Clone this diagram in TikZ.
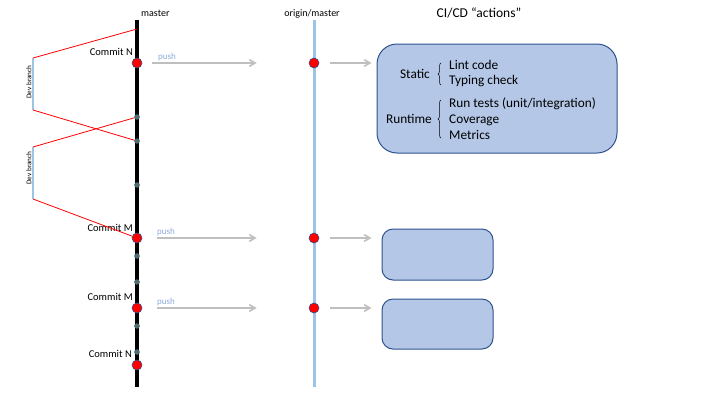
\documentclass[tikz,border=0pt]{standalone}
\usepackage{fontspec}
\setmainfont{Carlito}
\usepackage{tikz}
\usetikzlibrary{
        arrows,
        decorations.pathreplacing,
        positioning,
        shapes
    }
\definecolor{boxfill}{RGB}{180,199,231}
\definecolor{boxline}{RGB}{47,82,143}
\definecolor{pushgray}{RGB}{191,191,191}
\definecolor{originblue}{RGB}{157,195,230}
\definecolor{pushblue}{RGB}{142,169,219}
\definecolor{wipgreen}{RGB}{84,112,90}
\tikzset{>=angle 60,node distance=2cm}
\tikzset{commit/.style={circle,draw=boxline,fill=red,line width=0.6pt,minimum size=10pt,inner sep=0pt}}
\tikzset{wip/.style={circle,draw=boxline,fill=wipgreen,line width=0.4pt,minimum size=5pt,inner sep=0pt}}
\tikzset{clabel/.style={inner sep=0pt,font=\fontsize{10.5}{12}\selectfont}}
\tikzset{plabel/.style={inner sep=0pt,text=pushblue,font=\fontsize{9}{10}\selectfont}}
\tikzset{devlabel/.style={inner sep=0pt,rotate=90,font=\fontsize{7.2}{8}\selectfont}}
\tikzset{actionbox/.style={draw=boxline,fill=boxfill,line width=1pt}}
\tikzset{boxtext/.style={inner sep=0pt,font=\fontsize{13.3}{16}\selectfont}}
\tikzset{pusharrow/.style={->,draw=pushgray,line width=1.6pt}}
\tikzset{merge/.style={draw=red,line width=0.8pt}}

\begin{document}
\begin{tikzpicture}[x=1pt,y=-1pt]
    \useasboundingbox (0,0) rectangle (720,405);
    % branches
    \coordinate (mtop) at (137,20);
    \coordinate (mbot) at (137,387);
    \coordinate (otop) at (314,20);
    \coordinate (obot) at (314,387);
    \coordinate (fork) at (137,29);
    \coordinate (d1a) at (33,58);
    \coordinate (d1b) at (33,110);
    \coordinate (d2a) at (33,147);
    \coordinate (d2b) at (33,199);
    \node[inner sep=0pt,font=\fontsize{10}{12}\selectfont,anchor=west] (lmaster) at (141,13) {master};
    \node[inner sep=0pt,font=\fontsize{10}{12}\selectfont] (lorigin) at (312,14) {origin/master};
    \node[inner sep=0pt,font=\fontsize{13.5}{16}\selectfont] (cititle) at (479,13) {CI/CD ``actions''};
    \draw[originblue,line width=3pt] (otop) -- (obot);
    \draw[line width=3.5pt] (mtop) -- (mbot);
    % commits on master
    \node[commit] (cN)  at (137,63)  {};
    \node[wip]    (w1)  at (137,117) {};
    \node[wip]    (w2)  at (137,141) {};
    \node[wip]    (w3)  at (137,185) {};
    \node[commit] (cM)  at (137,238) {};
    \node[wip]    (w4)  at (137,256) {};
    \node[wip]    (w5)  at (137,282) {};
    \node[commit] (cMb) at (137,308) {};
    \node[wip]    (w6)  at (137,326) {};
    \node[wip]    (w7)  at (137,352) {};
    \node[commit] (cNb) at (137,365) {};
    \node[clabel,anchor=east] (lN)  at (133,52)  {Commit N};
    \node[clabel,anchor=east] (lM)  at (133,228) {Commit M};
    \node[clabel,anchor=east] (lMb) at (133,297) {Commit M};
    \node[clabel,anchor=east] (lNb) at (132,354) {Commit N};
    % dev branches
    \draw[originblue,line width=1.5pt] (d1a) -- (d1b);
    \draw[originblue,line width=1.5pt] (d2a) -- (d2b);
    \draw[merge] (d1a) -- (fork);
    \draw[merge] (d1b) -- (w2);
    \draw[merge] (d2a) -- (w1);
    \draw[merge] (d2b) -- (cM);
    \node[devlabel] (ldev1) at (29,82)  {Dev branch};
    \node[devlabel] (ldev2) at (29,168) {Dev branch};
    % origin
    \node[commit] (oN)  at (314,63)  {};
    \node[commit] (oM)  at (314,238) {};
    \node[commit] (oMb) at (314,308) {};
    % actions
    \node[actionbox,rounded corners=20pt,minimum width=240pt,minimum height=109pt] (ci1) at (497,98.5) {};
    \node[actionbox,rounded corners=11pt,minimum width=111pt,minimum height=51pt] (ci2) at (437.5,254.5) {};
    \node[actionbox,rounded corners=11pt,minimum width=111pt,minimum height=50pt] (ci3) at (437.5,324) {};
    \node[boxtext,anchor=east] (static)  at (430,74)  {Static};
    \node[boxtext,anchor=west] (lint)    at (449,65)  {Lint code};
    \node[boxtext,anchor=west] (typing)  at (449,81)  {Typing check};
    \node[boxtext,anchor=east] (runtime) at (432,119) {Runtime};
    \node[boxtext,anchor=west] (tests)   at (449,104) {Run tests (unit/integration)};
    \node[boxtext,anchor=west] (cover)   at (449,120) {Coverage};
    \node[boxtext,anchor=west] (metrics) at (449,135) {Metrics};
    \draw[decorate,decoration={brace,amplitude=3pt},line width=0.5pt] (441,85) -- (441,63);
    \draw[decorate,decoration={brace,amplitude=3pt},line width=0.5pt] (441,138) -- (441,100);
    % pushes
    \draw[pusharrow,shorten <=10pt,shorten >=52pt] (cN) -- (oN);
    \draw[pusharrow,shorten <=15pt,shorten >=52pt] (cM) -- (oM);
    \draw[pusharrow,shorten <=15pt,shorten >=52pt] (cMb) -- (oMb);
    \node[plabel,anchor=west] (p1) at (158,57)  {push};
    \node[plabel,anchor=west] (p2) at (157,232) {push};
    \node[plabel,anchor=west] (p3) at (157,302) {push};
    \draw[pusharrow,shorten <=11pt,shorten >=5pt]  (oN) -- (oN -| ci1.west);
    \draw[pusharrow,shorten <=11pt,shorten >=10pt] (oM) -- (oM -| ci2.west);
    \draw[pusharrow,shorten <=11pt,shorten >=10pt] (oMb) -- (oMb -| ci3.west);
\end{tikzpicture}
\end{document}
